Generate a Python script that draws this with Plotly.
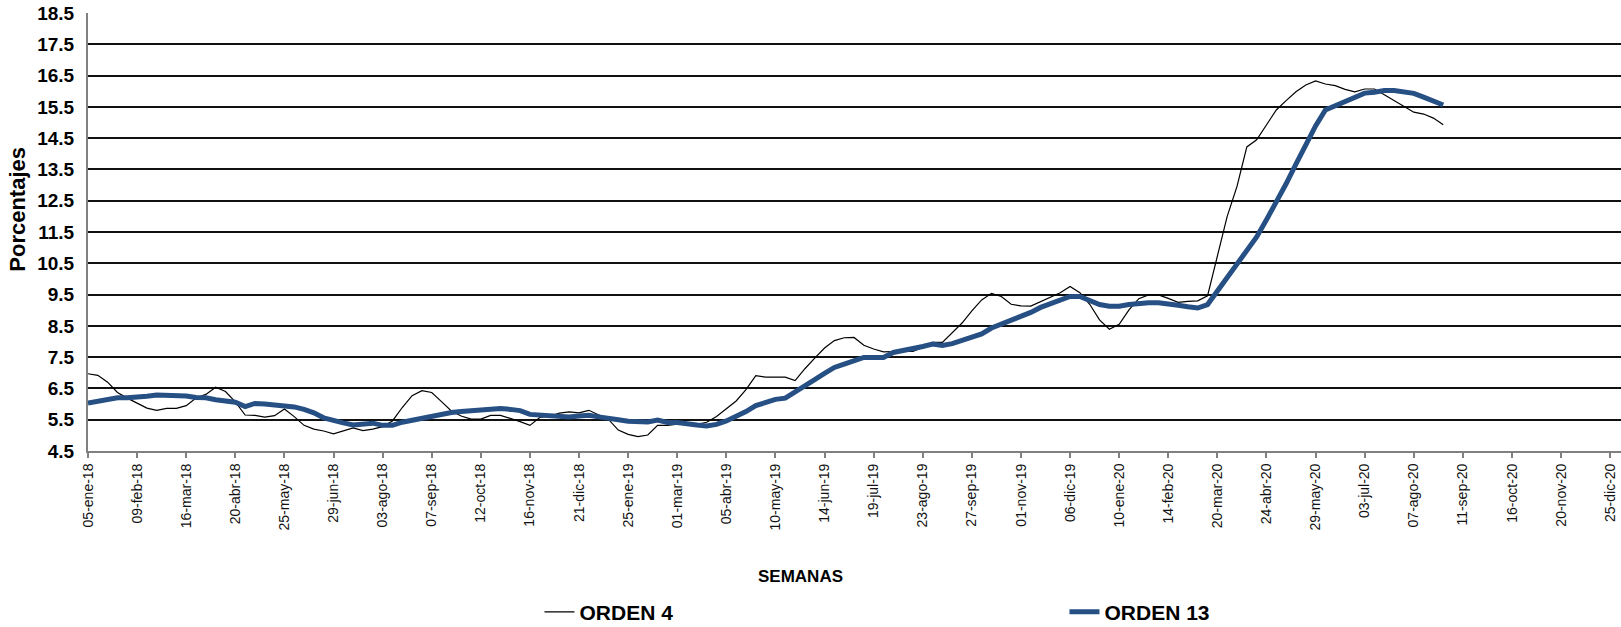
import plotly.graph_objects as go

tick_labels = ["05-ene-18", "09-feb-18", "16-mar-18", "20-abr-18", "25-may-18", "29-jun-18",
               "03-ago-18", "07-sep-18", "12-oct-18", "16-nov-18", "21-dic-18", "25-ene-19",
               "01-mar-19", "05-abr-19", "10-may-19", "14-jun-19", "19-jul-19", "23-ago-19",
               "27-sep-19", "01-nov-19", "06-dic-19", "10-ene-20", "14-feb-20", "20-mar-20",
               "24-abr-20", "29-may-20", "03-jul-20", "07-ago-20", "11-sep-20", "16-oct-20",
               "20-nov-20", "25-dic-20"]

orden4 = [6.97, 6.92, 6.70, 6.37, 6.19, 6.03, 5.87, 5.80, 5.86, 5.86,
          5.95, 6.19, 6.31, 6.54, 6.40, 6.07, 5.65, 5.64, 5.58, 5.63,
          5.84, 5.60, 5.32, 5.20, 5.14, 5.05, 5.15, 5.24, 5.15, 5.20,
          5.28, 5.46, 5.89, 6.27, 6.43, 6.37, 6.08, 5.78, 5.62, 5.52,
          5.52, 5.64, 5.64, 5.55, 5.44, 5.32, 5.57, 5.61, 5.71, 5.75,
          5.72, 5.80, 5.65, 5.51, 5.17, 5.03, 4.96, 5.01, 5.32, 5.32,
          5.36, 5.37, 5.35, 5.42, 5.60, 5.84, 6.10, 6.46, 6.91, 6.86,
          6.86, 6.86, 6.75, 7.13, 7.47, 7.79, 8.03, 8.12, 8.13, 7.88,
          7.76, 7.67, 7.68, 7.68, 7.68, 7.81, 7.97, 7.97, 8.27, 8.59,
          8.98, 9.33, 9.54, 9.44, 9.19, 9.14, 9.13, 9.27, 9.41, 9.56,
          9.76, 9.56, 9.19, 8.69, 8.39, 8.55, 9.01, 9.37, 9.49, 9.49,
          9.38, 9.25, 9.28, 9.30, 9.46, 10.72, 12.00, 12.96, 14.22, 14.45,
          14.93, 15.40, 15.70, 15.98, 16.20, 16.33, 16.23, 16.18, 16.06, 15.98,
          16.07, 16.07, 15.89, 15.70, 15.51, 15.33, 15.27, 15.14, 14.93]

orden13 = [6.03, 6.09, 6.15, 6.20, 6.20, 6.21, 6.25, 6.29, 6.29, 6.29,
           6.26, 6.21, 6.20, 6.14, 6.12, 6.06, 5.92, 6.02, 6.00, 5.97,
           5.96, 5.91, 5.83, 5.72, 5.56, 5.46, 5.40, 5.33, 5.34, 5.39,
           5.32, 5.32, 5.42, 5.48, 5.54, 5.62, 5.70, 5.73, 5.76, 5.78,
           5.82, 5.86, 5.86, 5.83, 5.79, 5.67, 5.65, 5.61, 5.59, 5.59,
           5.62, 5.64, 5.59, 5.56, 5.50, 5.45, 5.43, 5.43, 5.49, 5.41,
           5.41, 5.35, 5.33, 5.30, 5.35, 5.46, 5.60, 5.76, 5.95, 6.06,
           6.15, 6.19, 6.38, 6.55, 6.78, 6.98, 7.17, 7.28, 7.38, 7.49,
           7.49, 7.49, 7.65, 7.71, 7.75, 7.84, 7.92, 7.87, 7.93, 8.04,
           8.16, 8.24, 8.43, 8.55, 8.67, 8.80, 8.93, 9.09, 9.22, 9.35,
           9.44, 9.44, 9.29, 9.18, 9.13, 9.13, 9.18, 9.23, 9.24, 9.24,
           9.18, 9.16, 9.11, 9.07, 9.18, 9.61, 10.03, 10.44, 10.90, 11.34,
           11.89, 12.45, 13.04, 13.67, 14.29, 14.89, 15.40, 15.54, 15.67, 15.83,
           15.94, 15.97, 16.02, 16.02, 15.98, 15.93, 15.81, 15.67, 15.56]

weeks = list(range(len(orden4)))
tick_weeks = [5 * i for i in range(len(tick_labels))]

FONT = "Liberation Sans, Arial, sans-serif"

fig = go.Figure()
fig.add_trace(go.Scatter(x=weeks, y=orden4, mode="lines", name="ORDEN 4",
                         line=dict(color="#000000", width=1.2)))
fig.add_trace(go.Scatter(x=weeks, y=orden13, mode="lines", name="ORDEN 13",
                         line=dict(color="#264F84", width=5)))

fig.update_layout(
    width=1621, height=627,
    margin=dict(l=88, r=0, t=13, b=176, autoexpand=False),
    paper_bgcolor="white", plot_bgcolor="white",
    font=dict(family=FONT, color="#000000"),
    showlegend=True,
    legend=dict(orientation="h", x=0.2945, y=-0.368, xanchor="left", yanchor="middle",
                font=dict(family=FONT, size=21, weight=700),
                entrywidthmode="pixels", entrywidth=480,
                bgcolor="rgba(0,0,0,0)", itemclick=False),
    xaxis=dict(range=[0, 156.1], tickmode="array", tickvals=tick_weeks, ticktext=tick_labels,
               tickangle=-90, tickfont=dict(family=FONT, size=14, color="#111111"),
               ticks="outside", ticklen=5, tickcolor="#808080", tickwidth=1.5,
               automargin=False,
               showgrid=False, zeroline=False, showline=True, linecolor="#808080", linewidth=2),
    yaxis=dict(range=[4.5, 18.5], tick0=4.5, dtick=1, tickformat=".1f",
               tickfont=dict(family=FONT, size=19, weight=700),
               ticks="", ticklabelstandoff=8, automargin=False,
               showgrid=True, gridcolor="#111111", gridwidth=1.8,
               zeroline=False, showline=True, linecolor="#808080", linewidth=2),
    annotations=[
        dict(text="Porcentajes", xref="paper", yref="paper", x=-0.0457, y=0.553,
             xanchor="center", yanchor="middle", textangle=-90, showarrow=False,
             font=dict(family=FONT, size=22, weight=700)),
        dict(text="SEMANAS", xref="paper", yref="paper", x=0.465, y=-0.286,
             xanchor="center", yanchor="middle", showarrow=False,
             font=dict(family=FONT, size=17, weight=700)),
    ],
)

fig.write_html("out.html", config={"displayModeBar": False},
               post_script="document.body.style.margin='0px';document.body.style.overflow='hidden';")
